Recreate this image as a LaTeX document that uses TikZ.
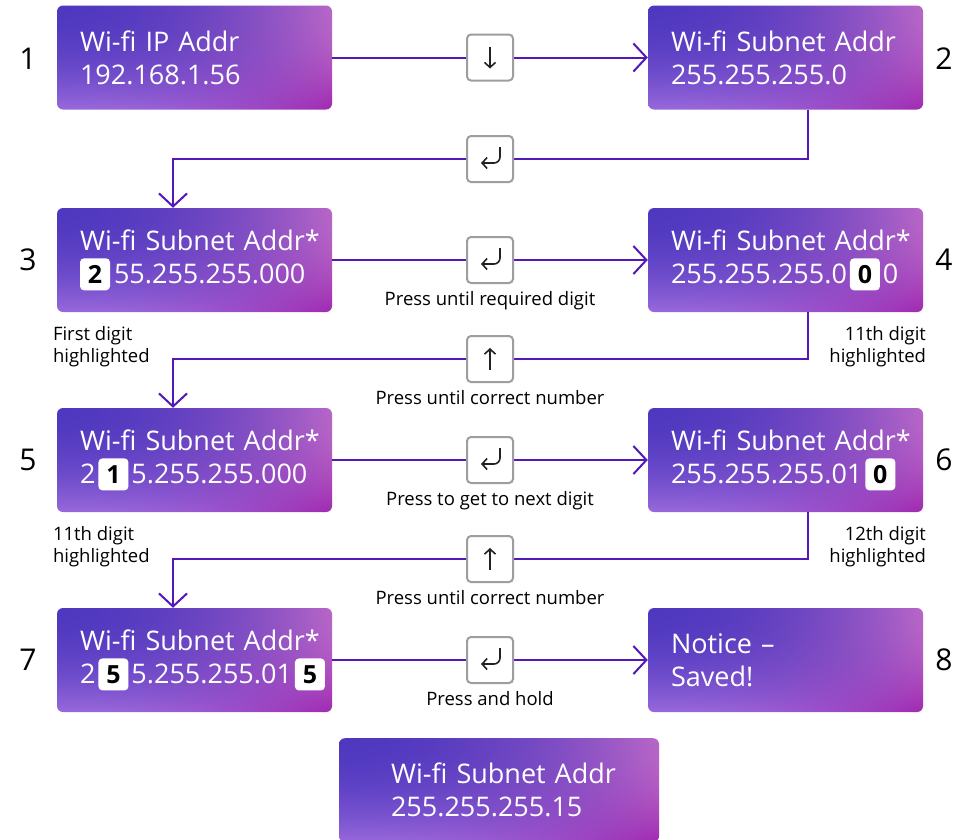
\documentclass[tikz,border=0pt]{standalone}
\usepackage{fontspec}
\setmainfont{Open Sans}[Ligatures={TeX,NoCommon}]
\usetikzlibrary{arrows.meta,positioning}

\definecolor{flowc}{RGB}{84,24,184}
\definecolor{keyc}{RGB}{158,158,158}
\definecolor{symc}{RGB}{34,34,34}

% blue top left, pink top right, lilac bottom left, magenta bottom right
\pgfdeclarefunctionalshading{boxfade}{\pgfpoint{0bp}{0bp}}{\pgfpoint{100bp}{100bp}}{}{
  75 exch sub 50 div dup mul exch 25 sub 50 div dup mul exch
  2 copy mul
  2 index 0.41 mul 2 index 0.29 mul add 1 index -0.38 mul add 0.31 add
  3 index 0.18 mul 3 index 0.19 mul add 2 index -0.43 mul add 0.22 add
  4 index 0.03 mul 4 index 0.11 mul add 3 index -0.20 mul add 0.75 add
  6 3 roll pop pop pop
}

\newcommand{\panelfont}{\fontsize{27}{33}\selectfont\exhyphenpenalty=10000 \hyphenpenalty=10000 }
\tikzset{chip/.style={fill=white, text=black, rounded corners=4pt, minimum width=30pt,
  minimum height=32pt, inner sep=0pt, font=\fontsize{25}{25}\selectfont\bfseries}}
\newcommand{\digitchip}[2]{\tikz[baseline]\node[chip, anchor=base] (#1) {#2};}

\begin{document}
\begin{tikzpicture}[x=1pt, y=1pt,
  panel/.style={shade, shading=boxfade, rounded corners=6pt, minimum width=275pt,
    minimum height=104pt, text width=229pt, inner xsep=23pt, align=left, text=white,
    font=\panelfont},
  flow/.style={draw=flowc, line width=2pt, -{Straight Barb[length=13pt, width=28pt]}},
  key/.style={draw=keyc, fill=white, line width=2pt, rounded corners=4pt,
    minimum size=46pt, inner sep=0pt},
  sym/.style={draw=symc, line width=1.6pt, -{Straight Barb[length=5pt, width=11pt]}},
  num/.style={font=\fontsize{30}{30}\selectfont},
  note/.style={font=\fontsize{18.5}{22}\selectfont, inner sep=0pt}]
  \useasboundingbox[fill=white] (0,0) rectangle (971,-839);

  % screens
  \node[panel] (b1) at (194.5,-57.5) {Wi-fi~IP~Addr\\192.168.1.56};
  \node[panel] (b2) at (785.5,-57.5) {Wi-fi~Subnet~Addr\\255.255.255.0};
  \node[panel] (b3) at (194.5,-260) {Wi-fi~Subnet~Addr*\\\digitchip{c3}{2}\kern4pt 55.255.255.000};
  \node[panel] (b4) at (785.5,-260) {Wi-fi~Subnet~Addr*\\255.255.255.0\kern3pt\digitchip{c4}{0}\kern3pt 0};
  \node[panel] (b5) at (194.5,-460) {Wi-fi~Subnet~Addr*\\2\kern3pt\digitchip{c5}{1}\kern3pt 5.255.255.000};
  \node[panel] (b6) at (785.5,-460) {Wi-fi~Subnet~Addr*\\255.255.255.01\kern3pt\digitchip{c6}{0}};
  \node[panel] (b7) at (194.5,-660) {Wi-fi~Subnet~Addr*\\2\kern3pt\digitchip{c7}{5}\kern3pt 5.255.255.01\kern3pt\digitchip{c8}{5}};
  \node[panel] (b8) at (785.5,-660) {Notice~--\\Saved!};
  \node[panel, anchor=north, minimum width=320pt, text width=216pt, inner xsep=52pt] (b9) at (499,-738) {Wi-fi~Subnet~Addr\\255.255.255.15};

  % step numbers
  \node[num] (n1) at (28,-59) {1};
  \node[num] (n2) at (944,-59) {2};
  \node[num] (n3) at (28,-260) {3};
  \node[num] (n4) at (944,-260) {4};
  \node[num] (n5) at (28,-460) {5};
  \node[num] (n6) at (944,-460) {6};
  \node[num] (n7) at (28,-660) {7};
  \node[num] (n8) at (944,-660) {8};

  % connectors
  \coordinate (r1) at (808,-159);
  \coordinate (l1) at (173,-159);
  \coordinate (r2) at (808,-359);
  \coordinate (l2) at (173,-359);
  \coordinate (r3) at (808,-559);
  \coordinate (l3) at (173,-559);
  \draw[flow] (b1) -- (b2);
  \draw[flow] (b2.south -| r1) -- (r1) -- (l1) -- (b3.north -| l1);
  \draw[flow] (b3) -- (b4);
  \draw[flow] (b4.south -| r2) -- (r2) -- (l2) -- (b5.north -| l2);
  \draw[flow] (b5) -- (b6);
  \draw[flow] (b6.south -| r3) -- (r3) -- (l3) -- (b7.north -| l3);
  \draw[flow] (b7) -- (b8);

  % keys
  \node[key] (k1) at (490,-57.5) {};
  \draw[sym] ([yshift=11pt]k1.center) -- ([yshift=-11pt]k1.center);
  \node[key] (k2) at (490,-159) {};
  \draw[sym] ([shift={(10,12)}]k2.center) -- ([shift={(10,2)}]k2.center)
    arc[start angle=0, end angle=-90, radius=6] -- ([shift={(-9,-4)}]k2.center);
  \node[key] (k3) at (490,-260) {};
  \draw[sym] ([shift={(10,12)}]k3.center) -- ([shift={(10,2)}]k3.center)
    arc[start angle=0, end angle=-90, radius=6] -- ([shift={(-9,-4)}]k3.center);
  \node[key] (k4) at (490,-359) {};
  \draw[sym] ([yshift=-11pt]k4.center) -- ([yshift=11pt]k4.center);
  \node[key] (k5) at (490,-460) {};
  \draw[sym] ([shift={(10,12)}]k5.center) -- ([shift={(10,2)}]k5.center)
    arc[start angle=0, end angle=-90, radius=6] -- ([shift={(-9,-4)}]k5.center);
  \node[key] (k6) at (490,-559) {};
  \draw[sym] ([yshift=-11pt]k6.center) -- ([yshift=11pt]k6.center);
  \node[key] (k7) at (490,-660) {};
  \draw[sym] ([shift={(10,12)}]k7.center) -- ([shift={(10,2)}]k7.center)
    arc[start angle=0, end angle=-90, radius=6] -- ([shift={(-9,-4)}]k7.center);

  % key notes
  \node[note, below=7pt of k3] (p3) {Press until required digit};
  \node[note, below=7pt of k4] (p4) {Press until correct number};
  \node[note, below=7pt of k5] (p5) {Press to get to next digit};
  \node[note, below=7pt of k6] (p6) {Press until correct number};
  \node[note, below=7pt of k7] (p7) {Press and hold};

  % highlight notes
  \node[note, align=left, below right=14pt and -4pt of b3.south west] (h3) {First digit\\highlighted};
  \node[note, align=right, below left=14pt and -3pt of b4.south east] (h4) {11th digit\\highlighted};
  \node[note, align=left, below right=14pt and -4pt of b5.south west] (h5) {11th digit\\highlighted};
  \node[note, align=right, below left=14pt and -3pt of b6.south east] (h6) {12th digit\\highlighted};
\end{tikzpicture}
\end{document}
